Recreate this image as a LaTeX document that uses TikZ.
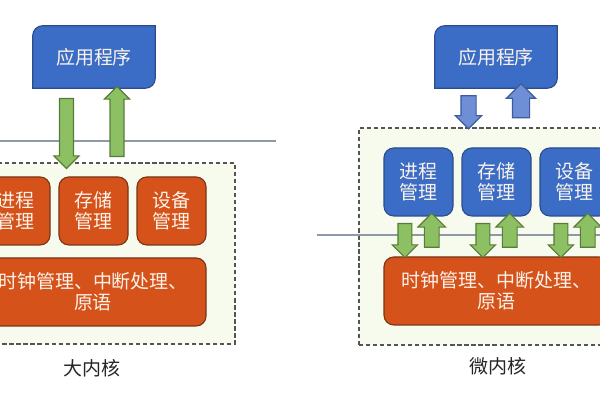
\documentclass[tikz,border=0pt]{standalone}
\usepackage{fontspec}
\newfontfamily\cjk{Noto Sans CJK SC}
\usetikzlibrary{shapes.arrows}

\definecolor{appblue}{HTML}{3B6DC6}
\definecolor{blueline}{HTML}{2B4C8C}
\definecolor{kernorange}{HTML}{D5521A}
\definecolor{orangeline}{HTML}{7A3414}
\definecolor{arrowgreen}{HTML}{8CC063}
\definecolor{greenline}{HTML}{587A3A}
\definecolor{arrowblue}{HTML}{6E8ED6}
\definecolor{arrowblueline}{HTML}{3E5C9C}
\definecolor{kernfill}{HTML}{F7FBEE}
\definecolor{kernline}{HTML}{555555}
\definecolor{sepline}{HTML}{8C9AA8}
\definecolor{boxtext}{HTML}{FBF3EA}

\tikzset{
  box/.style={line width=0.8pt, rounded corners=7pt, minimum width=1.725cm,
    minimum height=1.7cm, inner sep=0pt, align=center, text=boxtext,
    font=\cjk\fontsize{13.5}{15}\selectfont},
  orangebox/.style={box, fill=kernorange, draw=orangeline},
  bluebox/.style={box, fill=appblue, draw=blueline},
  appbox/.style={minimum width=3.05cm, minimum height=1.55cm, inner sep=0pt,
    text=boxtext, font=\cjk\fontsize{13.5}{15}\selectfont},
  appshape/.style={fill=appblue, draw=blueline, line width=0.8pt},
  blockarrow/.style={single arrow, line width=0.8pt, inner xsep=0pt,
    inner ysep=0.16cm, single arrow head extend=0.14cm},
  greenarrow/.style={blockarrow, fill=arrowgreen, draw=greenline},
  bluearrow/.style={blockarrow, fill=arrowblue, draw=arrowblueline},
  kernel/.style={fill=kernfill, draw=kernline, line width=1pt,
    dash pattern=on 3pt off 2pt},
  sep/.style={draw=sepline, line width=0.8pt},
  caption/.style={text=black!85, font=\cjk\fontsize{13.5}{15}\selectfont}
}

\begin{document}
\begin{tikzpicture}
\clip (0,0) rectangle (15,10);
\fill[white] (0,0) rectangle (15,10);

% Drawing kernel frames
\draw [kernel] (-0.1,1.4) rectangle (5.875,5.925);%
\draw [kernel] (8.975,1.375) rectangle (15.2,6.8);%

% Drawing separating lines
\coordinate (lsepa) at (0,6.475);
\coordinate (lsepb) at (6.9,6.475);
\coordinate (rsepa) at (7.925,4.125);
\coordinate (rsepb) at (15,4.125);
\draw [sep] (lsepa) -- (lsepb);%
\draw [sep] (rsepa) -- (rsepb);%

%%%%%%%%%% monolithic kernel (left)

% Marking application box
\node [appbox] (lapp) at (2.35,8.575) {应用程序};%
\draw [appshape] (lapp.south west) -- ([yshift=-0.25cm]lapp.north west)
  arc (180:90:0.25cm) -- (lapp.north east) -- ([yshift=0.25cm]lapp.south east)
  arc (0:-90:0.25cm) -- cycle;%
\node [appbox] at (lapp) {应用程序};%

% Marking kernel modules
\node [orangebox] (lproc) at (0.3875,4.725) {进程\\管理};%
\node [orangebox] (lmem) at (2.3375,4.725) {存储\\管理};%
\node [orangebox] (ldev) at (4.2875,4.725) {设备\\管理};%
\node [orangebox, minimum width=5.65cm] (lbase) at (2.325,2.7) {时钟管理、中断处理、\\原语};%

% Drawing calls into the kernel
\node [greenarrow, minimum height=1.75cm, rotate=-90] (ldown) at (1.6625,6.75) {};%
\node [greenarrow, minimum height=1.75cm, rotate=90] (lup) at (2.925,6.875) {};%

\node [caption] (lcap) at (2.3,0.8) {大内核};%

%%%%%%%%%% microkernel (right)

% Marking application box
\node [appbox] (rapp) at (12.4,8.575) {应用程序};%
\draw [appshape] (rapp.south west) -- ([yshift=-0.25cm]rapp.north west)
  arc (180:90:0.25cm) -- (rapp.north east) -- ([yshift=0.25cm]rapp.south east)
  arc (0:-90:0.25cm) -- cycle;%
\node [appbox] at (rapp) {应用程序};%

% Marking server modules
\node [bluebox] (rproc) at (10.4625,5.45) {进程\\管理};%
\node [bluebox] (rmem) at (12.4125,5.45) {存储\\管理};%
\node [bluebox] (rdev) at (14.3625,5.45) {设备\\管理};%
\node [orangebox, minimum width=5.625cm] (rbase) at (12.4125,2.725) {时钟管理、中断处理、\\原语};%

% Drawing calls from the application
\node [bluearrow, inner ysep=0.175cm, minimum height=0.825cm, rotate=-90] (rdown) at (11.7125,7.2875) {};%
\node [bluearrow, inner ysep=0.2cm, single arrow head extend=0.15cm, minimum height=0.85cm, rotate=90] (rup) at (13.025,7.375) {};%

% Drawing calls between modules and kernel
\foreach \m in {rproc,rmem,rdev}{
  \node [greenarrow, minimum height=0.85cm, rotate=-90] (\m down) at ([xshift=-0.34cm,yshift=-1.375cm]\m) {};%
  \node [greenarrow, inner ysep=0.17cm, single arrow head extend=0.16cm, minimum height=0.85cm, rotate=90] (\m up) at ([xshift=0.33cm,yshift=-1.3cm]\m) {};%
}

\node [caption] (rcap) at (12.45,0.85) {微内核};%
\end{tikzpicture}
\end{document}
